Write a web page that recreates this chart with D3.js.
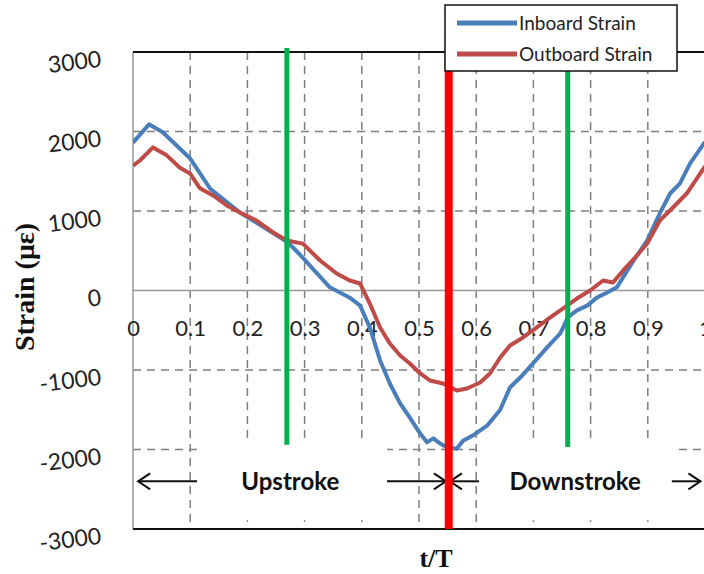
<!DOCTYPE html>
<html>
<head>
<meta charset="utf-8">
<script src="https://cdn.jsdelivr.net/npm/d3@7"></script>
<style>
  body { margin: 0; background: #fff; }
  svg { display: block; }
</style>
</head>
<body>
<div id="chart"></div>
<script>
// strain data (t/T, microstrain)
const inboardT = [0, 0.028, 0.052, 0.1, 0.135, 0.187, 0.23, 0.27, 0.292, 0.344, 0.379, 0.397, 0.414, 0.432, 0.449, 0.467, 0.484, 0.502, 0.514, 0.525, 0.537, 0.549, 0.566, 0.577, 0.594, 0.619, 0.642, 0.659, 0.677, 0.699, 0.724, 0.747, 0.76, 0.776, 0.794, 0.811, 0.829, 0.846, 0.864, 0.881, 0.899, 0.921, 0.939, 0.956, 0.974, 1.0];
const inboardStrain = [1860, 2090, 1990, 1660, 1280, 980, 790, 610, 450, 40, -90, -190, -465, -880, -1170, -1420, -1600, -1800, -1910, -1860, -1925, -1975, -1990, -1890, -1825, -1700, -1500, -1220, -1095, -920, -715, -540, -340, -250, -190, -90, -25, 40, 250, 440, 630, 970, 1220, 1345, 1600, 1870];

const outboardT = [0, 0.012, 0.035, 0.059, 0.082, 0.1, 0.117, 0.14, 0.164, 0.187, 0.216, 0.245, 0.269, 0.297, 0.327, 0.356, 0.379, 0.397, 0.414, 0.432, 0.449, 0.467, 0.484, 0.502, 0.519, 0.542, 0.566, 0.584, 0.607, 0.624, 0.642, 0.659, 0.682, 0.706, 0.729, 0.752, 0.776, 0.799, 0.822, 0.839, 0.857, 0.881, 0.899, 0.921, 0.944, 0.968, 1.0];
const outboardStrain = [1570, 1635, 1800, 1700, 1545, 1470, 1285, 1195, 1070, 980, 880, 730, 630, 590, 377, 214, 126, 88, -164, -465, -667, -818, -918, -1044, -1132, -1170, -1258, -1233, -1157, -1044, -843, -692, -591, -465, -340, -226, -101, 0, 126, 101, 252, 440, 591, 880, 1044, 1220, 1560];

const xTicks = [0, 0.1, 0.2, 0.3, 0.4, 0.5, 0.6, 0.7, 0.8, 0.9, 1];
const yTicks = [-3000, -2000, -1000, 0, 1000, 2000, 3000];

// phase markers: t position, strain range
const greenMarkers = [
  {t: 0.269, from: -1940, to: 3050},
  {t: 0.760, from: -1970, to: 3050}
];
const redMarker = {t: 0.552, from: -3000, to: 3050};

// annotation arrows at strain -2400
const arrowLevel = -2400;
const arrows = [
  {from: 0.112, to: 0.009},
  {from: 0.444, to: 0.547},
  {from: 0.605, to: 0.554},
  {from: 0.942, to: 0.992}
];
const phaseLabels = [
  {text: "Upstroke", t: 0.275, box: [0.112, 0.444]},
  {text: "Downstroke", t: 0.773, box: [0.605, 0.951]}
];

const seriesNames = ["Inboard Strain", "Outboard Strain"];
const seriesColors = ["#4a7ebb", "#be4b48"];

const width = 704, height = 574;
const plot = {left: 133, right: 705, top: 52, bottom: 529};

const svg = d3.select("#chart")
  .append("svg")
  .attr("width", width)
  .attr("height", height);

const x = d3.scaleLinear().domain([0, 1]).range([plot.left, plot.right]);
const y = d3.scaleLinear().domain([-3000, 3000]).range([plot.bottom, plot.top]);

// grid
const grid = svg.append("g");
grid.selectAll("line.v")
  .data(xTicks.filter(d => d > 0))
  .join("line")
  .attr("x1", d => x(d)).attr("x2", d => x(d))
  .attr("y1", plot.top).attr("y2", plot.bottom)
  .attr("stroke", "#7f7f7f")
  .attr("stroke-width", 1.5)
  .attr("stroke-dasharray", "8,6");
grid.selectAll("line.h")
  .data(yTicks.filter(d => d !== 0 && d !== 3000 && d !== -3000))
  .join("line")
  .attr("x1", plot.left).attr("x2", plot.right)
  .attr("y1", d => y(d)).attr("y2", d => y(d))
  .attr("stroke", "#7f7f7f")
  .attr("stroke-width", 1.5)
  .attr("stroke-dasharray", "8,6");

// white boxes behind the phase labels
svg.selectAll("rect.box")
  .data(phaseLabels)
  .join("rect")
  .attr("x", d => x(d.box[0]))
  .attr("width", d => x(d.box[1]) - x(d.box[0]))
  .attr("y", y(-1890))
  .attr("height", y(-2890) - y(-1890))
  .attr("fill", "#fff");

// zero line and frame
svg.append("line")
  .attr("x1", plot.left).attr("x2", plot.right)
  .attr("y1", y(0)).attr("y2", y(0))
  .attr("stroke", "#999").attr("stroke-width", 1.5);
svg.append("line")
  .attr("x1", plot.left).attr("x2", plot.left)
  .attr("y1", plot.top).attr("y2", plot.bottom)
  .attr("stroke", "#999").attr("stroke-width", 1.5);
svg.append("line")
  .attr("x1", plot.left).attr("x2", plot.right)
  .attr("y1", plot.top).attr("y2", plot.top)
  .attr("stroke", "#111").attr("stroke-width", 1.8);
svg.append("line")
  .attr("x1", plot.left).attr("x2", plot.right)
  .attr("y1", plot.bottom).attr("y2", plot.bottom)
  .attr("stroke", "#111").attr("stroke-width", 1.8);

// y axis labels (slightly tilted like the scan)
const yAxis = svg.append("g")
  .attr("transform", `translate(${plot.left},0)`)
  .call(d3.axisLeft(y).tickValues(yTicks).tickSize(0).tickPadding(0).tickFormat(d => String(d)));
yAxis.select(".domain").remove();
yAxis.selectAll("text")
  .attr("x", null).attr("dy", null)
  .attr("font-family", "Lato, 'Open Sans', sans-serif")
  .attr("font-size", 23)
  .attr("fill", "#222")
  .attr("text-anchor", "end")
  .attr("transform", "translate(-31,14) rotate(-7)");

// x axis labels sit inside the plot, under the zero line
const xAxis = svg.append("g")
  .attr("transform", `translate(0,${y(0)})`)
  .call(d3.axisBottom(x).tickValues(xTicks).tickSize(0).tickPadding(0).tickFormat(d => String(d)));
xAxis.select(".domain").remove();
xAxis.selectAll("text")
  .attr("y", 45).attr("dy", null)
  .attr("font-family", "Lato, 'Open Sans', sans-serif")
  .attr("font-size", 22)
  .attr("fill", "#222");

// curves
const line = d3.line().x(d => x(d[0])).y(d => y(d[1]));
const series = [
  d3.zip(inboardT, inboardStrain),
  d3.zip(outboardT, outboardStrain)
];
svg.append("defs").append("clipPath").attr("id", "clip")
  .append("rect")
  .attr("x", plot.left).attr("y", plot.top - 10)
  .attr("width", plot.right - plot.left).attr("height", plot.bottom - plot.top + 10);
svg.append("g")
  .attr("clip-path", "url(#clip)")
  .selectAll("path")
  .data(series)
  .join("path")
  .attr("d", line)
  .attr("fill", "none")
  .attr("stroke", (d, i) => seriesColors[i])
  .attr("stroke-width", 4)
  .attr("stroke-linejoin", "round");

// phase marker lines
svg.selectAll("line.green")
  .data(greenMarkers)
  .join("line")
  .attr("x1", d => x(d.t)).attr("x2", d => x(d.t))
  .attr("y1", d => y(d.to)).attr("y2", d => y(d.from))
  .attr("stroke", "#00b050")
  .attr("stroke-width", 5);

// arrows
const ah = 12, aw = 8;
const arrowG = svg.append("g")
  .attr("stroke", "#111")
  .attr("stroke-width", 2)
  .attr("fill", "none");
arrows.forEach(a => {
  const x0 = x(a.from), x1 = x(a.to), yy = y(arrowLevel);
  const dir = x1 > x0 ? 1 : -1;
  arrowG.append("line")
    .attr("x1", x0).attr("x2", x1)
    .attr("y1", yy).attr("y2", yy);
  arrowG.append("path")
    .attr("d", `M${x1 - dir * ah},${yy - aw}L${x1},${yy}L${x1 - dir * ah},${yy + aw}`);
});

svg.append("line")
  .attr("x1", x(redMarker.t)).attr("x2", x(redMarker.t))
  .attr("y1", y(redMarker.to)).attr("y2", y(redMarker.from))
  .attr("stroke", "#ff0000")
  .attr("stroke-width", 8);

svg.selectAll("text.phase")
  .data(phaseLabels)
  .join("text")
  .attr("x", d => x(d.t))
  .attr("y", y(arrowLevel) + 9)
  .attr("text-anchor", "middle")
  .attr("font-family", "Lato, 'Open Sans', sans-serif")
  .attr("font-weight", "bold")
  .attr("font-size", 24)
  .attr("fill", "#111")
  .text(d => d.text);

// axis titles
svg.append("text")
  .attr("transform", "translate(34,287) rotate(-90)")
  .attr("text-anchor", "middle")
  .attr("font-family", "'Liberation Serif', 'DejaVu Serif', serif")
  .attr("font-weight", "bold")
  .attr("font-size", 28)
  .attr("fill", "#111")
  .text("Strain (με)");
svg.append("text")
  .attr("x", 436)
  .attr("y", 567)
  .attr("text-anchor", "middle")
  .attr("font-family", "'Liberation Serif', 'DejaVu Serif', serif")
  .attr("font-weight", "bold")
  .attr("font-size", 26)
  .attr("fill", "#111")
  .text("t/T");

// legend
const legend = svg.append("g").attr("transform", "translate(445,5)");
legend.append("rect")
  .attr("width", 232).attr("height", 66)
  .attr("fill", "#fff")
  .attr("stroke", "#111")
  .attr("stroke-width", 1.5);
const items = legend.selectAll("g.item")
  .data(seriesNames)
  .join("g")
  .attr("transform", (d, i) => `translate(0,${18 + i * 31})`);
items.append("line")
  .attr("x1", 12).attr("x2", 72)
  .attr("stroke", (d, i) => seriesColors[i])
  .attr("stroke-width", 5);
items.append("text")
  .attr("x", 74)
  .attr("y", 7)
  .attr("font-family", "Lato, 'Open Sans', sans-serif")
  .attr("font-size", 19)
  .attr("fill", "#222")
  .text(d => d);
</script>
</body>
</html>
